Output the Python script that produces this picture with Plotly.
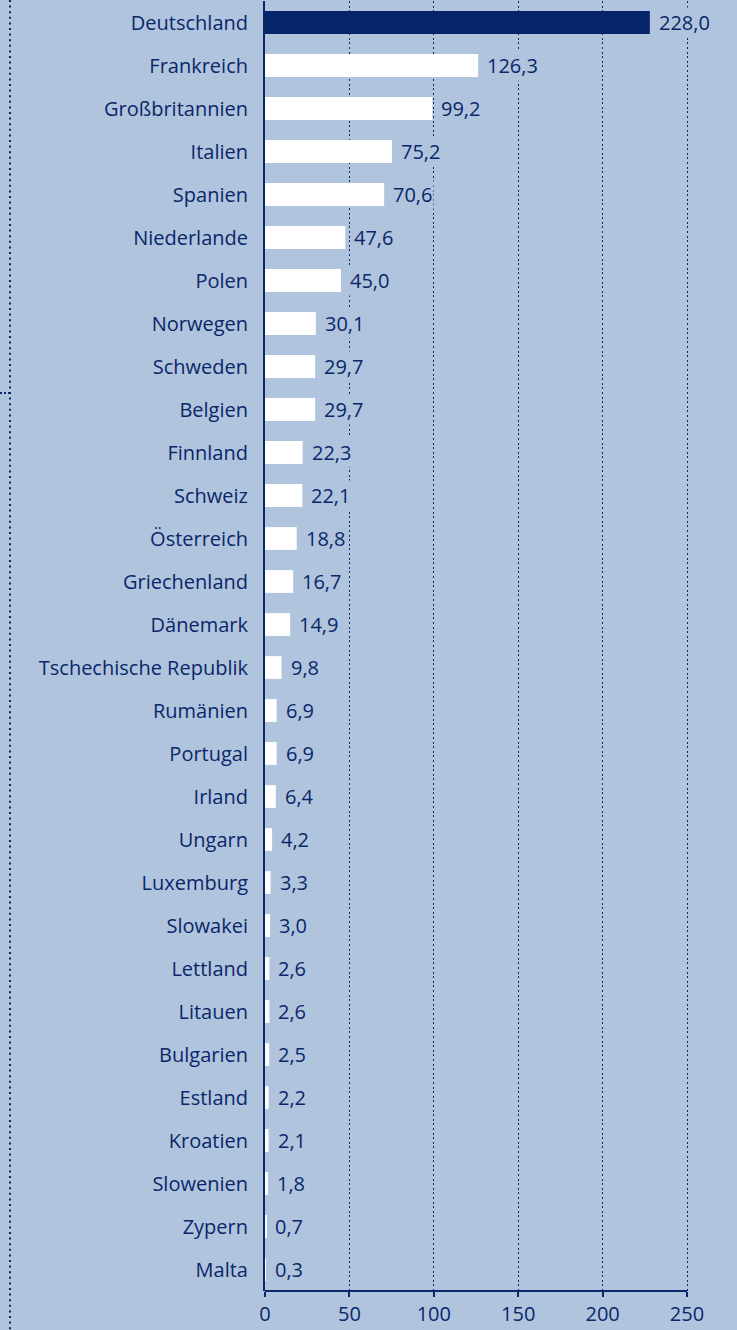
import plotly.graph_objects as go

countries = ["Deutschland", "Frankreich", "Großbritannien", "Italien", "Spanien", "Niederlande",
             "Polen", "Norwegen", "Schweden", "Belgien", "Finnland", "Schweiz", "Österreich",
             "Griechenland", "Dänemark", "Tschechische Republik", "Rumänien", "Portugal", "Irland",
             "Ungarn", "Luxemburg", "Slowakei", "Lettland", "Litauen", "Bulgarien", "Estland",
             "Kroatien", "Slowenien", "Zypern", "Malta"]
values = [228.0, 126.3, 99.2, 75.2, 70.6, 47.6, 45.0, 30.1, 29.7, 29.7, 22.3, 22.1, 18.8,
          16.7, 14.9, 9.8, 6.9, 6.9, 6.4, 4.2, 3.3, 3.0, 2.6, 2.6, 2.5, 2.2, 2.1, 1.8, 0.7, 0.3]
x_ticks = [0, 50, 100, 150, 200, 250]

BG = "#B0C4DE"
NAVY = "#0A2769"
BAR_DARK = "#06246A"

W, H = 737, 1330
ML, MR, MT, MB = 265, 0, 1, 39
plot_w = W - ML - MR
plot_h = H - MT - MB
px_per_unit = 84.4 / 50
x_max = plot_w / px_per_unit

colors = [BAR_DARK if i == 0 else "white" for i in range(len(values))]

fig = go.Figure()
fig.add_trace(go.Bar(
    x=values, y=countries, orientation="h",
    marker=dict(color=colors, line=dict(width=0)),
    width=0.53, hoverinfo="skip",
))

font = dict(family="Open Sans, Noto Sans, sans-serif", size=20, color=NAVY, weight=500)

annotations = []
for c, v in zip(countries, values):
    annotations.append(dict(
        x=v, y=c, xref="x", yref="y", text=f"{v:.1f}".replace(".", ","),
        showarrow=False, xanchor="left", yanchor="middle", xshift=7,
        font=font, bgcolor=BG, borderpad=1,
    ))

def py(r):
    return (H - MB - r) / plot_h

def pxp(c):
    return (c - ML) / plot_w

shapes = [
    # x axis baseline from 0 to 250
    dict(type="line", xref="x", yref="paper", x0=0, x1=x_ticks[-1], y0=0, y1=0,
         line=dict(color=NAVY, width=2)),
    # left dotted decoration
    dict(type="line", xref="paper", yref="paper", x0=pxp(10), x1=pxp(10), y0=py(0), y1=py(H),
         line=dict(color=NAVY, width=2, dash="2px,3.6px")),
    dict(type="line", xref="paper", yref="paper", x0=pxp(0), x1=pxp(10), y0=py(393), y1=py(393),
         line=dict(color=NAVY, width=2, dash="2px,2px")),
]

fig.update_layout(
    width=W, height=H,
    margin=dict(l=ML, r=MR, t=MT, b=MB, pad=0),
    paper_bgcolor=BG, plot_bgcolor=BG,
    showlegend=False,
    font=font,
    annotations=annotations,
    shapes=shapes,
    bargap=0.47,
    xaxis=dict(
        range=[0, x_max], tickvals=x_ticks, ticktext=[str(t) for t in x_ticks],
        showgrid=True, gridcolor=NAVY, gridwidth=1.3, griddash="2px,2.6px",
        zeroline=False, showline=False,
        ticks="outside", ticklen=5, tickwidth=2, tickcolor=NAVY,
        tickfont=font, fixedrange=True,
    ),
    yaxis=dict(
        categoryorder="array", categoryarray=countries[::-1],
        range=[-0.5, len(countries) - 0.5],
        showgrid=False, zeroline=False,
        showline=True, linecolor=NAVY, linewidth=2,
        ticks="", tickfont=font, ticklabelstandoff=11, fixedrange=True,
    ),
)

fig.write_html("out.html", config={"displayModeBar": False},
               post_script="document.body.style.margin='0px';document.body.style.padding='0px';")
